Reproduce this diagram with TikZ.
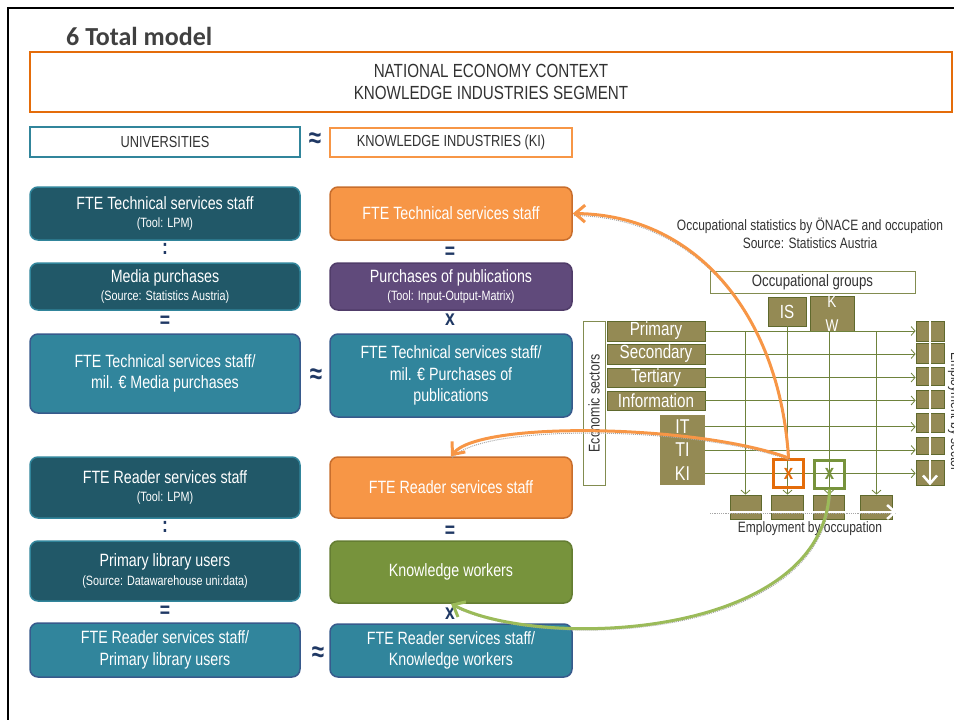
\documentclass[tikz,border=0pt]{standalone}
\usepackage{fontspec}
\setmainfont[FakeStretch=0.8]{Liberation Sans}
\newfontfamily\headfont{Carlito}
\usetikzlibrary{arrows.meta}

\definecolor{darkteal}{RGB}{33,88,104}
\definecolor{lineteal}{RGB}{49,133,155}
\definecolor{midteal}{RGB}{49,133,156}
\definecolor{lineblue}{RGB}{55,90,140}
\definecolor{kiorange}{RGB}{247,150,70}
\definecolor{lineorange}{RGB}{200,110,45}
\definecolor{deeporange}{RGB}{228,108,10}
\definecolor{plum}{RGB}{96,74,123}
\definecolor{lineplum}{RGB}{80,60,105}
\definecolor{leaf}{RGB}{119,147,60}
\definecolor{lineleaf}{RGB}{100,125,50}
\definecolor{lightleaf}{RGB}{155,187,89}
\definecolor{olive}{RGB}{148,138,84}
\definecolor{lineolive}{RGB}{95,105,45}
\definecolor{frameolive}{RGB}{130,140,80}
\definecolor{flowolive}{RGB}{110,130,60}
\definecolor{navy}{RGB}{31,56,100}
\definecolor{ink}{RGB}{50,50,50}
\definecolor{titlegray}{RGB}{64,64,64}

\newcommand{\subtxt}[1]{{\fontsize{13.5}{15}\selectfont #1}}

\begin{document}
\begin{tikzpicture}[x=1pt,y=1pt,yscale=-1,xscale=1,
  every node/.style={inner sep=0pt},
  box/.style={rounded corners=8pt,line width=1.5pt,text=white,align=center,
    minimum width=270pt,font=\fontsize{17.8}{21.5}\selectfont},
  unibox/.style={box,fill=darkteal,draw=lineteal},
  ratiobox/.style={box,fill=midteal,draw=lineblue},
  kibox/.style={box,minimum width=242pt,fill=kiorange,draw=lineorange},
  pubbox/.style={box,minimum width=242pt,fill=plum,draw=lineplum},
  workbox/.style={box,minimum width=242pt,fill=leaf,draw=lineleaf},
  kiratio/.style={ratiobox,minimum width=242pt},
  op/.style={text=navy,font=\fontsize{22}{22}\selectfont\bfseries},
  approx/.style={text=navy,font=\fontsize{28}{28}\selectfont\bfseries},
  head/.style={draw,line width=2pt,fill=white,text=ink,align=center,font=\fontsize{16}{17}\selectfont},
  cell/.style={fill=olive,draw=lineolive,line width=0.8pt,text=white,font=\fontsize{19}{19}\selectfont},
  flow/.style={draw=flowolive,line width=0.8pt,-{Straight Barb[length=4pt,width=9pt]}},
  pick/.style={line width=3pt,minimum width=30pt,minimum height=28pt,font=\fontsize{21}{21}\selectfont\bfseries},
  link/.style={line width=3pt,-{Straight Barb[length=10pt,width=17pt]},
    preaction={draw=gray!70,-,densely dotted,line width=1pt,transform canvas={xshift=1pt,yshift=-2pt}}},
  whitearrow/.style={white,line width=2.5pt,-{Straight Barb[length=8pt,width=14pt]}}
]
\useasboundingbox (0,0) rectangle (954,720);

%Shape: Frame
\draw [line width=2pt] (8,730) -- (8,8) -- (960,8) ;

%Text: title
\node [anchor=west,text=titlegray,font=\headfont\fontsize{26}{26}\selectfont\bfseries] (title) at (66,36) {6 Total model};

%Shape: Rectangle (context)
\node [head,draw=deeporange,minimum width=922pt,minimum height=60pt,font=\fontsize{19}{22}\selectfont] (context) at (491,82) {NATIONAL ECONOMY CONTEXT\\KNOWLEDGE INDUSTRIES SEGMENT};
%Shape: Rectangle (universities / KI)
\node [head,draw=lineteal,minimum width=270pt,minimum height=30pt] (univ) at (165,142) {UNIVERSITIES};
\node [approx] (approxTop) at (315,140) {≈};
\node [head,draw=kiorange,minimum width=242pt,minimum height=29pt] (kind) at (451,142.5) {KNOWLEDGE INDUSTRIES (KI)};

%Shape: Rounded Rect (technical services, universities)
\node [unibox,minimum height=53pt] (techU) at (165,213.5) {FTE Technical services staff\\[-3pt]\subtxt{(Tool: LPM)}};
\node [op] (colonA) at (165,249) {:};
\node [unibox,minimum height=47pt] (media) at (165,286.5) {Media purchases\\[-3pt]\subtxt{(Source: Statistics Austria)}};
\node [op] (eqA) at (165,322) {=};
\node [ratiobox,minimum height=79pt] (techRatioU) at (165,373.5) {FTE Technical services staff/\\mil. € Media purchases};
\node [approx] (approxA) at (316,376) {≈};

%Shape: Rounded Rect (technical services, KI)
\node [kibox,minimum height=53pt] (techK) at (451,213.5) {FTE Technical services staff};
\node [op] (eqB) at (450,253) {=};
\node [pubbox,minimum height=47pt] (pubs) at (451,286.5) {Purchases of publications\\[-3pt]\subtxt{(Tool: Input-Output-Matrix)}};
\node [op] (timesA) at (450,320) {x};
\node [kiratio,minimum height=83pt] (techRatioK) at (451,375.5) {FTE Technical services staff/\\mil. € Purchases of\\publications};

%Shape: Rounded Rect (reader services, universities)
\node [unibox,minimum height=61pt] (readU) at (165,487.5) {FTE Reader services staff\\[-3pt]\subtxt{(Tool: LPM)}};
\node [op] (colonB) at (165,527) {:};
\node [unibox,minimum height=60pt] (users) at (165,571) {Primary library users\\[-3pt]\subtxt{(Source: Datawarehouse uni:data)}};
\node [op] (eqC) at (165,612) {=};
\node [ratiobox,minimum height=54pt] (readRatioU) at (165,650) {FTE Reader services staff/\\Primary library users};
\node [approx] (approxB) at (318,654) {≈};

%Shape: Rounded Rect (reader services, KI)
\node [kibox,minimum height=61pt] (readK) at (451,487.5) {FTE Reader services staff};
\node [op] (eqD) at (450,532) {=};
\node [workbox,minimum height=62pt] (workers) at (451,572) {Knowledge workers};
\node [op] (timesB) at (450,614) {x};
\node [kiratio,minimum height=53pt] (readRatioK) at (451,650.5) {FTE Reader services staff/\\Knowledge workers};

%Text: statistics source
\node [text=ink,align=center,font=\fontsize{15}{18}\selectfont] (statsTitle) at (810,233) {Occupational statistics by ÖNACE and occupation\\Source: Statistics Austria};

%Shape: Rectangle (occupational groups)
\node [draw=frameolive,line width=1pt,fill=white,text=ink,minimum width=205pt,minimum height=22pt,font=\fontsize{16.5}{16.5}\selectfont] (groups) at (812.5,282) {Occupational groups};
\node [cell,minimum width=38pt,minimum height=29pt] (is) at (787,311.5) {IS};
\node [cell,minimum width=44pt,minimum height=29pt,align=center,font=\fontsize{17}{24}\selectfont] (kw) at (832,314) {K\\W};

%Shape: Rectangle (economic sectors)
\node [draw=frameolive,line width=1pt,fill=white,text=ink,rotate=90,minimum width=164pt,minimum height=22pt,font=\fontsize{15.5}{16}\selectfont] (sectors) at (594,403.5) {Economic sectors};
\node [cell,minimum width=98pt,minimum height=20pt] (primary) at (656,331) {Primary};
\node [cell,minimum width=98pt,minimum height=20pt] (secondary) at (656,354) {Secondary};
\node [cell,minimum width=98pt,minimum height=19pt] (tertiary) at (656,377.5) {Tertiary};
\node [cell,minimum width=98pt,minimum height=19pt] (information) at (656,400.5) {Information};
\node [cell,draw=none,minimum width=45pt,minimum height=23.5pt,font=\fontsize{20}{20}\selectfont] (it) at (682.5,426.8) {IT};
\node [cell,draw=none,minimum width=45pt,minimum height=23.5pt,font=\fontsize{20}{20}\selectfont] (ti) at (682.5,450) {TI};
\node [cell,draw=none,minimum width=45pt,minimum height=23.5pt,font=\fontsize{20}{20}\selectfont] (ki) at (682.5,473.3) {KI};

%Shape: Rectangle (employment by sector)
\node [cell,minimum width=28pt,minimum height=20pt] (s1) at (930,331) {};
\node [cell,minimum width=28pt,minimum height=20pt] (s2) at (930,353) {};
\node [cell,minimum width=28pt,minimum height=18pt] (s3) at (930,376) {};
\node [cell,minimum width=28pt,minimum height=18pt] (s4) at (930,399) {};
\node [cell,minimum width=28pt,minimum height=19pt] (s5) at (930,422.5) {};
\node [cell,minimum width=28pt,minimum height=17pt] (s6) at (930,445.5) {};
\node [cell,minimum width=28pt,minimum height=25pt] (s7) at (930,472.5) {};
\node [text=ink,rotate=-90,font=\fontsize{15}{15}\selectfont] (sectorLabel) at (955,412) {Employment by sector};

%Shape: Rectangle (employment by occupation)
\node [cell,minimum width=31pt,minimum height=24pt] (b1) at (745.5,507) {};
\node [cell,minimum width=32pt,minimum height=24pt] (b2) at (787.5,507) {};
\node [cell,minimum width=31pt,minimum height=24pt] (b3) at (829,507) {};
\node [cell,minimum width=32pt,minimum height=24pt] (b4) at (876.5,507) {};
\node [text=ink,font=\fontsize{15}{15}\selectfont] (occLabel) at (810,529) {Employment by occupation};
\coordinate (g1) at (745.5,331);
\coordinate (g4) at (876.5,331);
\coordinate (occStart) at (710,512);
\coordinate (occEnd) at (897,512);

%Straight Lines (sectors to employment)
\foreach \a/\b in {primary/s1,secondary/s2,tertiary/s3,information/s4,it/s5,ti/s6,ki/s7}
  \draw [flow] (\a.east) -- (\a.east -| \b.west) ;
%Straight Lines (groups to employment)
\draw [flow] (g1) -- (b1.north) ;
\draw [flow] (b2.north |- is.south) -- (b2.north) ;
\draw [flow] (b3.north |- kw.south) -- (b3.north) ;
\draw [flow] (g4) -- (b4.north) ;

%Straight Lines (white arrows)
\draw [whitearrow] (s1.north) -- (s7.south) ;
\draw [whitearrow,preaction={draw=gray!70,-,densely dotted,line width=1.2pt,transform canvas={yshift=-1.5pt}}] (occStart) -- (occEnd) ;

%Shape: Square (picked cells)
\node [pick,draw=deeporange,text=deeporange] (pickT) at (788.5,473.5) {x};
\node [pick,draw=leaf,text=leaf] (pickW) at (829.5,474) {x};

%Curve Lines
\draw [link,kiorange] (pickT.north) .. controls (780,320) and (700,215) .. (techK.east) ;
\draw [link,kiorange] (pickT.north) .. controls (700,425) and (480,420) .. (readK.north) ;
\draw [link,lightleaf] (pickW.south) .. controls (825,640) and (540,650) .. (workers.south) ;
\end{tikzpicture}
\end{document}
